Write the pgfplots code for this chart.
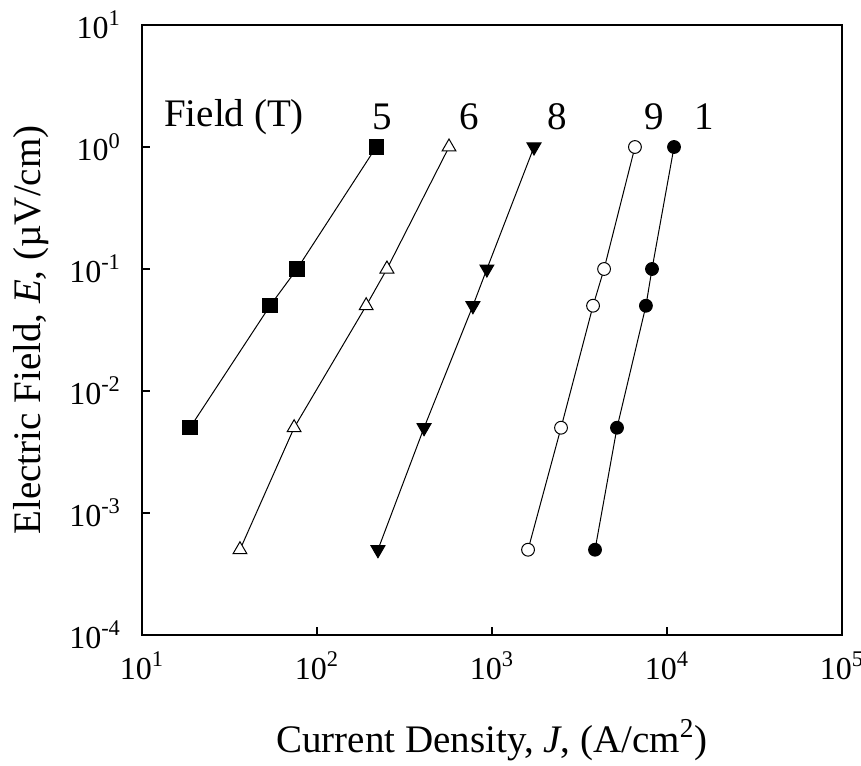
\documentclass[border=0pt]{standalone}
\usepackage{fontspec}
\setmainfont{Liberation Serif}
\usepackage{pgfplots}
\pgfplotsset{compat=1.18}

\begin{document}
\begin{tikzpicture}
\useasboundingbox (-71pt,-65pt) rectangle (359.5pt,317.5pt);
\begin{axis}[
  scale only axis,
  width=350pt, height=305pt,
  at={(0,0)}, anchor=south west,
  xmode=log, ymode=log,
  xmin=10, xmax=100000,
  ymin=0.0001, ymax=10,
  axis line style={line width=0.75pt},
  tick style={line width=0.7pt, black},
  tick align=inside,
  major tick length=4pt,
  xminorticks=false, yminorticks=false,
  xtick={10,100,1000,10000,100000},
  xticklabels={10\textsuperscript{1},10\textsuperscript{2},10\textsuperscript{3},10\textsuperscript{4},10\textsuperscript{5}},
  ytick={0.0001,0.001,0.01,0.1,1,10},
  yticklabels={10\textsuperscript{-4},10\textsuperscript{-3},10\textsuperscript{-2},10\textsuperscript{-1},10\textsuperscript{0},10\textsuperscript{1}},
  xtick pos=bottom, ytick pos=left,
  xticklabel style={font=\fontsize{16}{18}\selectfont, yshift=-5pt},
  yticklabel style={font=\fontsize{16}{18}\selectfont, xshift=-7pt},
  xlabel={Current Density, \textit{J}, (A/cm\textsuperscript{2})},
  ylabel={Electric Field, \textit{E}, (µV/cm)},
  label style={font=\fontsize{19.5}{22}\selectfont},
  xlabel style={at={(axis description cs:0.5,-0.172)}, anchor=center},
  ylabel style={at={(axis description cs:-0.159,0.5)}, anchor=center},
  clip=false,
  every axis plot/.append style={black, line width=0.5pt},
]
% 5 T
\addplot[mark=square*, mark size=3.6pt, mark options={fill=black}] coordinates {
  (18.8,0.005) (53.9,0.05) (76.9,0.1) (218,1)};
% 6 T
\addplot[mark=triangle*, mark size=4pt, mark options={fill=white}] coordinates {
  (36.3,0.0005) (74,0.005) (191,0.05) (251,0.1) (568,1)};
% 8 T
\addplot[mark=triangle*, mark size=4pt, mark options={fill=black, rotate=180}] coordinates {
  (223,0.0005) (409,0.005) (778,0.05) (935,0.1) (1738,1)};
% 9 T
\addplot[mark=*, mark size=3.2pt, mark options={fill=white}] coordinates {
  (1607,0.0005) (2480,0.005) (3780,0.05) (4370,0.1) (6560,1)};
% 10 T
\addplot[mark=*, mark size=3.2pt, mark options={fill=black}] coordinates {
  (3880,0.0005) (5180,0.005) (7580,0.05) (8210,0.1) (10970,1)};

\begin{scope}[every node/.style={font=\fontsize{19.5}{22}\selectfont, anchor=center, inner sep=0pt}]
\node at (axis cs:33.6,1.76) {Field (T)};
\node at (axis cs:235,1.76) {5};
\node at (axis cs:740,1.76) {6};
\node at (axis cs:2352,1.76) {8};
\node at (axis cs:8440,1.76) {9};
\node at (axis cs:16270,1.76) {1};
\end{scope}
\end{axis}
\end{tikzpicture}
\end{document}
